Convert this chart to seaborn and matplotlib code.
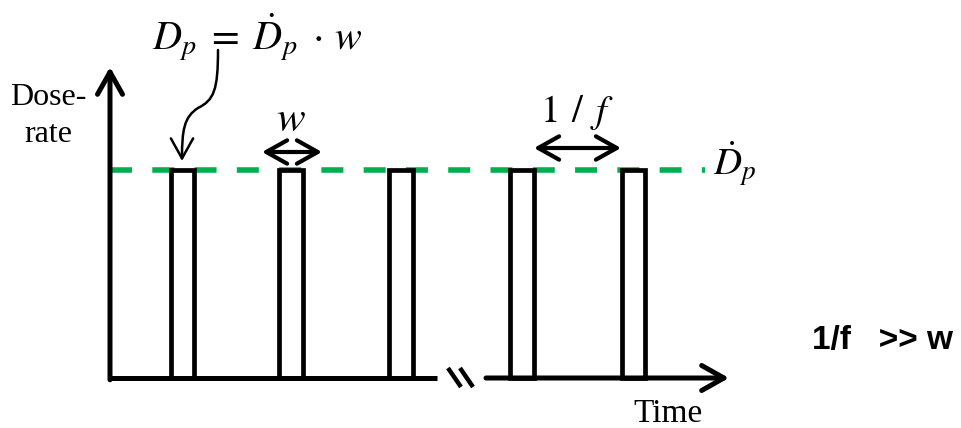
import matplotlib
matplotlib.use("Agg")
import matplotlib.pyplot as plt
import seaborn as sns
from matplotlib.path import Path
from matplotlib.patches import FancyArrowPatch

# Pulse train: onset time of each pulse, common width w and peak dose rate
pulse_start = [5.5, 15.4, 25.4, 36.4, 46.5]
pulse_width = 2.1
peak_dose_rate = 1.0
dashed_span = [0.0, 54.1]

sns.set_theme(style="white")
plt.rcParams["mathtext.fontset"] = "stix"
plt.rcParams["font.family"] = ["Liberation Serif", "DejaVu Serif"]
plt.rcParams["text.color"] = "black"

fig = plt.figure(figsize=(9.61, 4.28), dpi=100)
ax = fig.add_axes([0, 0, 1, 1])

# layout helpers: canvas pixel -> data units
PX_X0, PX_PER_T = 110, 11.0
PX_Y0, PX_PER_D = 378, 208.0


def tx(px):
    return (px - PX_X0) / PX_PER_T


def ty(py):
    return (PX_Y0 - py) / PX_PER_D


ax.set_xlim(tx(0), tx(961))
ax.set_ylim(ty(428), ty(0))
ax.axis("off")

# peak dose-rate level
sns.lineplot(x=dashed_span, y=[peak_dose_rate] * 2, ax=ax, color="#00B050",
             lw=4, zorder=2)
ax.lines[-1].set_dashes((3.96, 3.65))

# pulses
ax.bar(pulse_start, [peak_dose_rate] * len(pulse_start), width=pulse_width,
       align="edge", facecolor="white", edgecolor="black", linewidth=3.4,
       zorder=3)

axis_kw = dict(color="black", lw=3.6, shrinkA=0, shrinkB=0, mutation_scale=20,
               arrowstyle="->,head_length=0.8,head_width=0.45")
# y axis
ax.annotate("", xy=(0, ty(67)), xytext=(0, ty(379.8)), arrowprops=axis_kw,
            zorder=4)
# x axis, with a break
ax.plot([tx(108), tx(437)], [0, 0], color="black", lw=3.6,
        solid_capstyle="butt", zorder=4)
ax.annotate("", xy=(tx(729), 0), xytext=(tx(486), 0), arrowprops=axis_kw,
            zorder=4)
for x0 in (448, 460):
    ax.plot([tx(x0), tx(x0 + 13)], [ty(368), ty(387)], color="black", lw=3.2,
            solid_capstyle="butt", zorder=4)

# width and period markers
dbl_kw = dict(color="black", lw=3.0, shrinkA=0, shrinkB=0, mutation_scale=20,
              arrowstyle="<->,head_length=0.75,head_width=0.42")
ax.annotate("", xy=(tx(322), ty(152)), xytext=(tx(262), ty(152)),
            arrowprops=dbl_kw)
ax.annotate("", xy=(tx(621), ty(148)), xytext=(tx(534), ty(148)),
            arrowprops=dbl_kw)

ax.text(tx(291), ty(121), r"$w$", fontsize=31, ha="center", va="center")
ax.text(tx(577), ty(112), r"$1\;\,/\;\,f$", fontsize=28, ha="center",
        va="center")
ax.text(tx(713), ty(164), r"$\dot{D}_p$", fontsize=28, ha="left",
        va="center")
ax.text(tx(257), ty(37), r"$D_p\;=\;\dot{D}_p\;\cdot\,w$", fontsize=29,
        ha="center", va="center")

# curved pointer from the formula to the first pulse
verts = [(218, 50), (218, 90), (214, 100), (198, 108),
         (184, 117), (182, 130), (182, 161)]
codes = [Path.MOVETO] + [Path.CURVE4] * 6
curve = Path([(tx(x), ty(y)) for x, y in verts], codes)
ax.add_patch(FancyArrowPatch(path=curve, color="black", lw=1.8,
                             arrowstyle="->,head_length=0.9,head_width=0.5",
                             mutation_scale=16, zorder=5))

ax.text(tx(48), ty(116), "Dose-\nrate", fontsize=23, ha="center",
        va="center", linespacing=1.32)
ax.text(tx(668), ty(414), "Time", fontsize=24, ha="center", va="center")
ax.text(tx(812), ty(341), "1/f   >> w", fontsize=24, fontweight="bold",
        family=["Liberation Sans", "DejaVu Sans"], ha="left", va="center")

fig.savefig("out.png", dpi=100, facecolor="white")
